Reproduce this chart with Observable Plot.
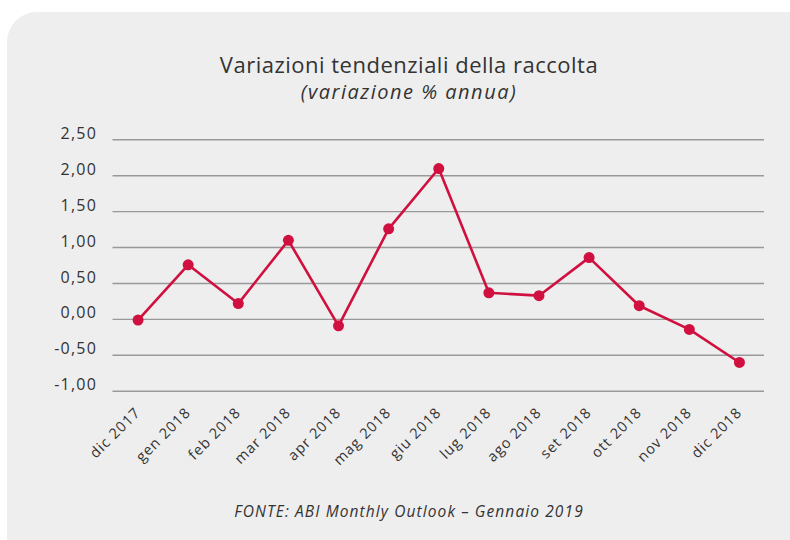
<!DOCTYPE html>
<html>
<head>
<meta charset="utf-8">
<script src="https://cdn.jsdelivr.net/npm/d3@7"></script>
<script src="https://cdn.jsdelivr.net/npm/@observablehq/plot@0.6"></script>
<style>
  html, body { margin: 0; padding: 0; background: #ffffff; }
  body { width: 790px; height: 540px; position: relative; overflow: hidden; font-family: "Open Sans", sans-serif; }
  #panel { position: absolute; left: 7px; top: 12px; width: 800px; height: 560px; background: #eeeeee; border-top-left-radius: 30px; }
  #title { position: absolute; left: 0; width: 818px; top: 49px; text-align: center; font-size: 22px; letter-spacing: 0.5px; color: #333; font-weight: 400; white-space: nowrap; }
  #subtitle { position: absolute; left: 0; width: 818px; top: 78px; text-align: center; font-size: 20px; letter-spacing: 1.5px; color: #333; font-style: italic; white-space: nowrap; }
  #caption { position: absolute; left: 0; width: 818px; top: 500px; text-align: center; font-size: 15.5px; letter-spacing: 1.1px; color: #333; font-style: italic; white-space: nowrap; }
  #chart { position: absolute; left: 0; top: 0; }
</style>
</head>
<body>
<div id="panel"></div>
<div id="title">Variazioni tendenziali della raccolta</div>
<div id="subtitle">(variazione % annua)</div>
<div id="chart"></div>
<div id="caption">FONTE: ABI Monthly Outlook – Gennaio 2019</div>
<script>
const months = ["dic 2017","gen 2018","feb 2018","mar 2018","apr 2018","mag 2018","giu 2018","lug 2018","ago 2018","set 2018","ott 2018","nov 2018","dic 2018"];
const values = [-0.01, 0.76, 0.22, 1.10, -0.09, 1.26, 2.10, 0.37, 0.33, 0.86, 0.19, -0.14, -0.60];
const yTicks = [-1, -0.5, 0, 0.5, 1, 1.5, 2, 2.5];

const data = months.map((m, i) => ({month: m, value: values[i]}));
const fmt = v => v.toFixed(2).replace(".", ",");
const red = "#d0103f";

const chart = Plot.plot({
  width: 790,
  height: 540,
  marginTop: 139.3,
  marginBottom: 149.3,
  marginLeft: 112.5,
  marginRight: 26,
  style: {background: "transparent", fontFamily: "'Open Sans', sans-serif", color: "#333"},
  x: {type: "point", domain: months, padding: 0.5, round: false, label: null},
  y: {domain: [-1, 2.5], label: null},
  marks: [
    Plot.ruleY(yTicks, {stroke: "#999999", strokeWidth: 1.4}),
    Plot.axisY(yTicks, {tickSize: 0, tickPadding: 16, dy: -6, tickFormat: fmt, fontSize: 16, fill: "#333", label: null}),
    Plot.axisX({tickSize: 0, tickRotate: -45, tickPadding: 19, fontSize: 14.5, fill: "#333", label: null}),
    Plot.line(data, {x: "month", y: "value", stroke: red, strokeWidth: 2.6}),
    Plot.dot(data, {x: "month", y: "value", fill: red, r: 5.5})
  ]
});
d3.select(chart).selectAll('g[aria-label="y-axis tick label"] text').style("letter-spacing", "1.2px");
d3.select(chart).selectAll('g[aria-label="x-axis tick label"] text').style("letter-spacing", "1px");
document.getElementById("chart").appendChild(chart);
</script>
</body>
</html>
